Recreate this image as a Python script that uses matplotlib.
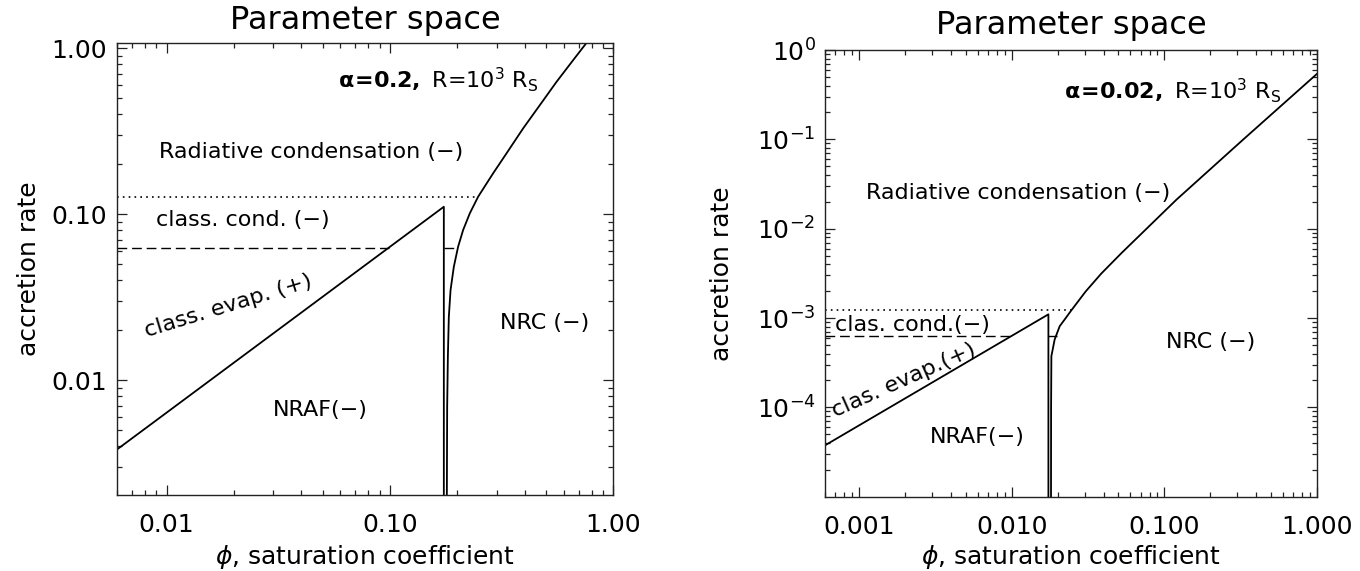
import matplotlib
matplotlib.use("Agg")
import matplotlib.pyplot as plt
from matplotlib.ticker import LogLocator, NullFormatter

plt.rcParams['font.family'] = ['DejaVu Sans']
plt.rcParams['mathtext.fontset'] = 'dejavusans'

# ---------------- data: left panel (alpha = 0.2) ----------------
evap_phi_L = [0.006, 0.1741, 0.1741]
evap_mdot_L = [0.00383, 0.111, 0.00203]
nrc_phi_L = [0.1796, 0.1802, 0.1815, 0.1833, 0.1866, 0.1930, 0.2017, 0.2124,
             0.2276, 0.2479, 0.2894, 0.3323, 0.3945, 0.4687, 0.5566, 0.6607,
             0.7586]
nrc_mdot_L = [0.00203, 0.00693, 0.01388, 0.0241, 0.0350, 0.0483, 0.0638, 0.0804,
              0.1014, 0.1276, 0.1766, 0.2331, 0.3297, 0.4554, 0.629, 0.850,
              1.081]
radcond_phi_L = [0.006, 0.2479]
radcond_mdot_L = [0.1266, 0.1266]
clcond_phi_L_a = [0.006, 0.0987]
clcond_phi_L_b = [0.1741, 0.2010]
clcond_mdot_L = [0.0629, 0.0629]

# ---------------- data: right panel (alpha = 0.02) ----------------
evap_phi_R = [0.0006, 0.0174, 0.0174]
evap_mdot_R = [3.77e-5, 1.1e-3, 1.0e-5]
nrc_phi_R = [0.01810, 0.01812, 0.01820, 0.01912, 0.02063, 0.0226, 0.0246,
             0.0305, 0.0386, 0.0525, 0.120, 0.3366, 1.0]
nrc_mdot_R = [1.0e-5, 1.0e-4, 3.74e-4, 5.75e-4, 8.1e-4, 1.0e-3, 1.22e-3,
              1.98e-3, 3.14e-3, 5.35e-3, 0.0211, 0.1031, 0.54]
radcond_phi_R = [0.0006, 0.0246]
radcond_mdot_R = [1.22e-3, 1.22e-3]
clcond_phi_R_a = [0.0006, 0.00995]
clcond_phi_R_b = [0.0174, 0.0198]
clcond_mdot_R = [6.26e-4, 6.26e-4]

# ticks
xticks_L = [0.01, 0.1, 1.0]
xticklabels_L = ["0.01", "0.10", "1.00"]
yticks_L = [0.01, 0.1, 1.0]
yticklabels_L = ["0.01", "0.10", "1.00"]
xticks_R = [0.001, 0.01, 0.1, 1.0]
xticklabels_R = ["0.001", "0.010", "0.100", "1.000"]
yticks_R = [1e-4, 1e-3, 1e-2, 1e-1, 1e0]
yticklabels_R = [r"$10^{-4}$", r"$10^{-3}$", r"$10^{-2}$", r"$10^{-1}$", r"$10^{0}$"]

fig = plt.figure(figsize=(13.6, 5.71), dpi=100)
axL = fig.add_axes([0.0860, 0.1326, 0.3651, 0.7926])
axR = fig.add_axes([0.6068, 0.1301, 0.3615, 0.7823])

LW = 1.3
dotted = (0, (1, 2.5))
dashed = (0, (7, 3.5))
tick_fs = 18
lab_fs = 16


def style(ax, xlim, ylim, xt, xtl, yt, ytl):
    ax.set_xscale('log')
    ax.set_yscale('log')
    ax.set_xlim(*xlim)
    ax.set_ylim(*ylim)
    ax.set_xticks(xt)
    ax.set_xticklabels(xtl)
    ax.set_yticks(yt)
    ax.set_yticklabels(ytl)
    ax.xaxis.set_minor_locator(LogLocator(base=10, subs=range(2, 10), numticks=20))
    ax.yaxis.set_minor_locator(LogLocator(base=10, subs=range(2, 10), numticks=20))
    ax.xaxis.set_minor_formatter(NullFormatter())
    ax.yaxis.set_minor_formatter(NullFormatter())
    ax.tick_params(which='both', direction='in', top=True, right=True,
                   width=0.9, color='#222222')
    ax.tick_params(which='major', length=7)
    ax.tick_params(which='minor', length=3.6)
    ax.tick_params(axis='x', which='major', pad=13, labelsize=tick_fs)
    ax.tick_params(axis='y', which='major', pad=7, labelsize=tick_fs)
    for s in ax.spines.values():
        s.set_linewidth(1.0)
        s.set_color('#222222')


style(axL, (0.006, 1.0), (0.00203, 1.08), xticks_L, xticklabels_L, yticks_L, yticklabels_L)
style(axR, (0.0006, 1.0), (1.0e-5, 1.0), xticks_R, xticklabels_R, yticks_R, yticklabels_R)

# left panel lines
axL.plot(evap_phi_L, evap_mdot_L, color='black', lw=LW)
axL.plot(nrc_phi_L, nrc_mdot_L, color='black', lw=LW)
axL.plot(radcond_phi_L, radcond_mdot_L, color='black', lw=1.2, ls=dotted)
axL.plot(clcond_phi_L_a, clcond_mdot_L, color='black', lw=1.0, ls=dashed)
axL.plot(clcond_phi_L_b, clcond_mdot_L, color='black', lw=1.0, ls=dashed)

# right panel lines
axR.plot(evap_phi_R, evap_mdot_R, color='black', lw=LW)
axR.plot(nrc_phi_R, nrc_mdot_R, color='black', lw=LW)
axR.plot(radcond_phi_R, radcond_mdot_R, color='black', lw=1.2, ls=dotted)
axR.plot(clcond_phi_R_a, clcond_mdot_R, color='black', lw=1.0, ls=dashed)
axR.plot(clcond_phi_R_b, clcond_mdot_R, color='black', lw=1.0, ls=dashed)

# titles and axis labels
for ax, ty in ((axL, 1.050), (axR, 1.056)):
    ax.text(0.5, ty, "Parameter space", transform=ax.transAxes, ha='center',
            va='center', fontsize=23)
    ax.set_xlabel(r"$\phi$, saturation coefficient", fontsize=18)
    ax.set_ylabel("accretion rate", fontsize=18)
axL.xaxis.set_label_coords(0.5, -0.105)
axR.xaxis.set_label_coords(0.5, -0.104)
axL.yaxis.set_label_coords(-0.152, 0.5)
axR.yaxis.set_label_coords(-0.185, 0.5)

# left annotations
axL.text(0.445, 0.9176, r"$\mathbf{\alpha\!=\!0.2,}$ R=10$^{3}$ R$_{\rm S}$",
         transform=axL.transAxes, ha='left', va='center', fontsize=lab_fs)
axL.text(0.0846, 0.7585, "Radiative condensation (\u2212)", transform=axL.transAxes,
         ha='left', va='center', fontsize=lab_fs)
axL.text(0.0785, 0.608, "class. cond. (\u2212)", transform=axL.transAxes,
         ha='left', va='center', fontsize=lab_fs)
axL.text(0.2236, 0.418, "class. evap. (+)", transform=axL.transAxes,
         ha='center', va='center', fontsize=lab_fs, rotation=17,
         rotation_mode='anchor')
axL.text(0.409, 0.1885, "NRAF(\u2212)", transform=axL.transAxes,
         ha='center', va='center', fontsize=lab_fs)
axL.text(0.862, 0.381, "NRC (\u2212)", transform=axL.transAxes,
         ha='center', va='center', fontsize=lab_fs)

# right annotations
axR.text(0.485, 0.910, r"$\mathbf{\alpha\!=\!0.02,}$ R=10$^{3}$ R$_{\rm S}$",
         transform=axR.transAxes, ha='left', va='center', fontsize=lab_fs)
axR.text(0.0827, 0.680, "Radiative condensation (\u2212)", transform=axR.transAxes,
         ha='left', va='center', fontsize=lab_fs)
axR.text(0.0197, 0.384, "clas. cond.(\u2212)", transform=axR.transAxes,
         ha='left', va='center', fontsize=lab_fs)
axR.text(0.1594, 0.260, "clas. evap.(+)", transform=axR.transAxes,
         ha='center', va='center', fontsize=lab_fs, rotation=24,
         rotation_mode='anchor')
axR.text(0.310, 0.134, "NRAF(\u2212)", transform=axR.transAxes,
         ha='center', va='center', fontsize=lab_fs)
axR.text(0.784, 0.347, "NRC (\u2212)", transform=axR.transAxes,
         ha='center', va='center', fontsize=lab_fs)

fig.savefig("out.png", dpi=100)
